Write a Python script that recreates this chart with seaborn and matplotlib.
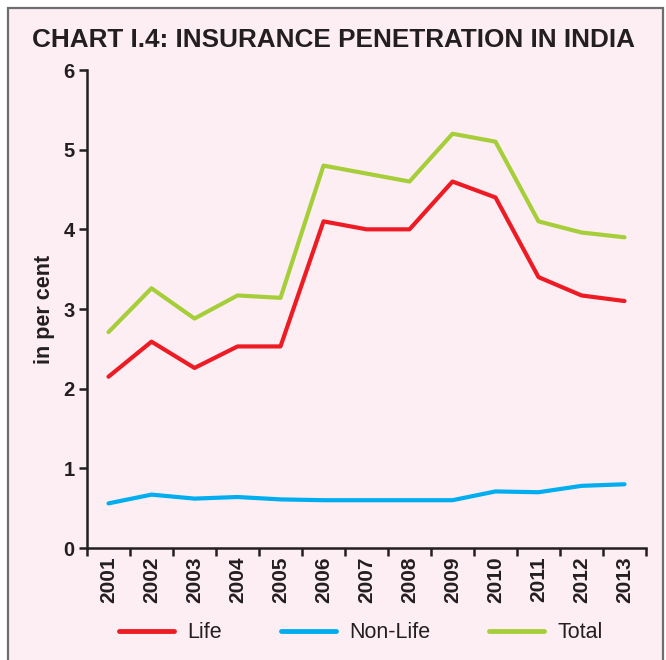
import numpy as np
import pandas as pd
import seaborn as sns
import matplotlib.pyplot as plt
from matplotlib.patches import Rectangle

# ---- data (in per cent of GDP) ----
years = ["2001", "2002", "2003", "2004", "2005", "2006", "2007",
         "2008", "2009", "2010", "2011", "2012", "2013"]
life = [2.15, 2.59, 2.26, 2.53, 2.53, 4.10, 4.00, 4.00, 4.60, 4.40, 3.40, 3.17, 3.10]
non_life = [0.56, 0.67, 0.62, 0.64, 0.61, 0.60, 0.60, 0.60, 0.60, 0.71, 0.70, 0.78, 0.80]
total = [2.71, 3.26, 2.88, 3.17, 3.14, 4.80, 4.70, 4.60, 5.20, 5.10, 4.10, 3.96, 3.90]

series_names = ["Life", "Non-Life", "Total"]
colors = ["#ED1C24", "#00AEEF", "#A6CE39"]

df = pd.DataFrame({"pos": np.arange(len(years)), "Life": life,
                   "Non-Life": non_life, "Total": total})
long = df.melt(id_vars="pos", var_name="series", value_name="value")

sns.set_style("ticks")
plt.rcParams["font.family"] = ["Liberation Sans", "DejaVu Sans"]

BG = "#FDEEF4"
INK = "#231F20"

fig = plt.figure(figsize=(6.66, 6.6), dpi=100)
fig.patch.set_facecolor("white")
# outer framed panel (behind everything)
panel = Rectangle((8 / 666, -0.05), 655 / 666, 1.05 - 8 / 660,
                  transform=fig.transFigure, facecolor=BG,
                  edgecolor="#6D6E71", linewidth=1.6, zorder=-10)
fig.add_artist(panel)

ax = fig.add_axes([87 / 666, 1 - 548 / 660, (646 - 87) / 666, (548 - 70) / 660])
ax.set_facecolor("none")
ax.set_zorder(1)

sns.lineplot(data=long, x="pos", y="value", hue="series",
             hue_order=series_names, palette=colors, linewidth=3,
             ax=ax, legend=False)

ax.set_xlim(-0.5, len(years) - 0.5)
ax.set_ylim(0, 6)
ax.set_yticks(range(0, 7))
ax.set_yticklabels([str(v) for v in range(0, 7)], fontsize=14.5, fontweight="bold", color=INK)

# category axis: tick marks at boundaries, labels at centres
ax.set_xticks(np.arange(-0.5, len(years), 1))
ax.set_xticklabels([])
ax.set_xticks(np.arange(len(years)), minor=True)
ax.set_xticklabels(years, minor=True, rotation=90, fontsize=15,
                   fontweight="bold", color=INK)
ax.tick_params(axis="x", which="minor", length=0, pad=6)
ax.tick_params(axis="x", which="major", length=6, width=1.8, color=INK)
ax.tick_params(axis="y", length=6, width=1.8, color=INK, pad=3)

ax.set_xlabel("")
ax.set_ylabel("in per cent", fontsize=15.5, fontweight="bold", color=INK, labelpad=6)

sns.despine(ax=ax)
for side in ["left", "bottom"]:
    ax.spines[side].set_linewidth(1.8)
    ax.spines[side].set_color(INK)

fig.text(0.5, 1 - 40 / 660, "CHART I.4: INSURANCE PENETRATION IN INDIA",
         ha="center", va="center", fontsize=18.8, fontweight="heavy", color=INK)

handles = [plt.Line2D([], [], color=c, lw=3.5) for c in colors]
fig.legend(handles, series_names, loc="center", bbox_to_anchor=(0.542, 1 - 633 / 660),
           ncol=3, frameon=False, fontsize=15.5, handlelength=2.55,
           columnspacing=2.75, handletextpad=0.6, labelcolor=INK)

fig.savefig("out.png", dpi=100, facecolor=fig.get_facecolor())
